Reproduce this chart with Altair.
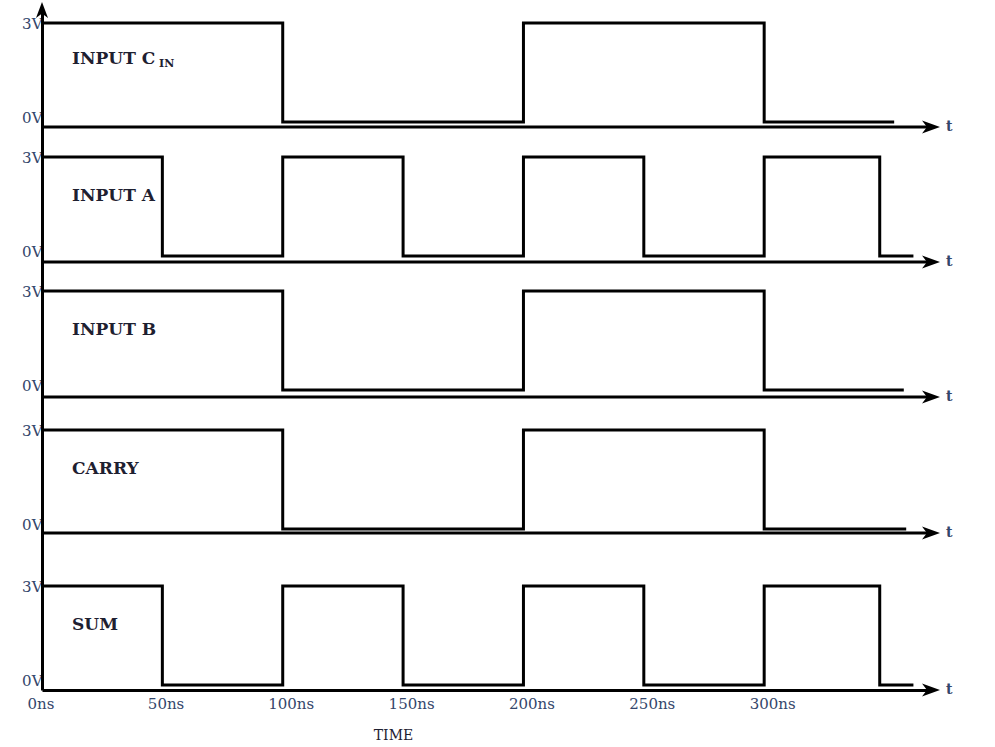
import altair as alt
import pandas as pd

# ---------------- data ----------------
signal_keys = ["CIN", "A", "B", "CARRY", "SUM"]
signal_titles = ["INPUT C", "INPUT A", "INPUT B", "CARRY", "SUM"]
cin_subscript = "IN"

cin_times = [0, 100, 200, 300, 354]
cin_levels = [3, 0, 3, 0, 0]
a_times = [0, 50, 100, 150, 200, 250, 300, 348, 362]
a_levels = [3, 0, 3, 0, 3, 0, 3, 0, 0]
b_times = [0, 100, 200, 300, 358]
b_levels = [3, 0, 3, 0, 0]
carry_times = [0, 100, 200, 300, 359]
carry_levels = [3, 0, 3, 0, 0]
sum_times = [0, 50, 100, 150, 200, 250, 300, 348, 362]
sum_levels = [3, 0, 3, 0, 3, 0, 3, 0, 0]

time_ticks = [0, 50, 100, 150, 200, 250, 300]
volt_labels = ["3V", "0V"]
time_title = "TIME"
axis_var = "t"

# ---------------- layout (track units = pixels up from the bottom axis) ----------------
T_MAX = 369.3
TRACK_TOP = 680
PX_PER_VOLT = 33
base = {"CIN": 568, "A": 434, "B": 300, "CARRY": 161, "SUM": 5}
axis_track = {"CIN": 563, "A": 428, "B": 293, "CARRY": 157, "SUM": 0}
title_lift = {"CIN": 63, "A": 60, "B": 60, "CARRY": 60, "SUM": 60}
TITLE_T = 12.5

INK = "#000000"
LABEL = "#34466b"
TITLE = "#1e2030"
SERIF = "DejaVu Serif"

series = {
    "CIN": (cin_times, cin_levels),
    "A": (a_times, a_levels),
    "B": (b_times, b_levels),
    "CARRY": (carry_times, carry_levels),
    "SUM": (sum_times, sum_levels),
}

rows = []
for k in signal_keys:
    ts, vs = series[k]
    for t, v in zip(ts, vs):
        rows.append({"sig": k, "t": t, "track": base[k] + v * PX_PER_VOLT})
wave = pd.DataFrame(rows)

axes_df = pd.DataFrame(
    [{"sig": k, "t": 0, "t2": T_MAX, "track": axis_track[k]} for k in signal_keys if k != "SUM"]
)
arrow_df = pd.DataFrame([{"t": T_MAX, "track": axis_track[k]} for k in signal_keys])
up_df = pd.DataFrame([{"t": 0, "track": TRACK_TOP}])
tlab_df = pd.DataFrame([{"t": T_MAX, "track": axis_track[k], "lab": axis_var} for k in signal_keys])
title_df = pd.DataFrame(
    [{"t": TITLE_T, "track": base[k] + title_lift[k], "lab": lab} for k, lab in zip(signal_keys, signal_titles)]
)
sub_df = pd.DataFrame([{"t": TITLE_T, "track": base["CIN"] + title_lift["CIN"], "lab": cin_subscript}])

three_v = [base[k] + 3 * PX_PER_VOLT for k in signal_keys]
zero_v = [base[k] + 5 for k in signal_keys]
y_values = sorted(three_v + zero_v)
y_expr = (
    "(" + " || ".join("datum.value == %d" % v for v in three_v) + ") ? '"
    + volt_labels[0] + "' : '" + volt_labels[1] + "'"
)

X = alt.X(
    "t:Q",
    scale=alt.Scale(domain=[0, T_MAX], nice=False, zero=False),
    axis=alt.Axis(
        values=time_ticks,
        labelExpr="datum.value + 'ns'",
        ticks=False,
        grid=False,
        domainColor=INK,
        domainWidth=3,
        labelFont=SERIF,
        labelFontSize=15,
        labelColor=LABEL,
        labelAlign="left",
        labelOffset=-15,
        labelPadding=6,
        labelFlush=False,
        labelOverlap=False,
        labelBound=False,
        title=time_title,
        titleFont=SERIF,
        titleFontSize=14,
        titleFontWeight="normal",
        titleColor=TITLE,
        titleX=351,
        titleY=45,
        titleAlign="center",
        titleBaseline="middle",
    ),
)
Y = alt.Y(
    "track:Q",
    scale=alt.Scale(domain=[0, TRACK_TOP], nice=False, zero=False),
    axis=alt.Axis(
        values=y_values,
        labelExpr=y_expr,
        ticks=False,
        grid=False,
        domainColor=INK,
        domainWidth=3,
        labelFont=SERIF,
        labelFontSize=15,
        labelColor=LABEL,
        labelAlign="right",
        labelBaseline="middle",
        labelPadding=0,
        labelOverlap=False,
        labelBound=False,
        title=None,
    ),
)

waves = alt.Chart(wave).mark_line(
    interpolate="step-after", color=INK, strokeWidth=3, strokeJoin="miter", strokeCap="butt"
).encode(x=X, y=Y, detail="sig:N")

axis_lines = alt.Chart(axes_df).mark_rule(color=INK, strokeWidth=3).encode(
    x=X, x2="t2:Q", y=Y
)

right_arrow = "M 1 0 L -1 -0.72 L -0.45 0 L -1 0.72 Z"
up_arrow = "M 0 -1 L 0.75 1 L 0 0.45 L -0.75 1 Z"

arrows = alt.Chart(arrow_df).mark_point(
    shape=right_arrow, size=324, filled=True, color=INK, opacity=1, strokeWidth=0
).encode(x=X, y=Y)
up = alt.Chart(up_df).mark_point(
    shape=up_arrow, size=256, filled=True, color=INK, opacity=1, strokeWidth=0
).encode(x=X, y=Y)

tlabels = alt.Chart(tlab_df).mark_text(
    align="left", baseline="middle", dx=15, font=SERIF, fontSize=14, fontWeight="bold", color=LABEL
).encode(x=X, y=Y, text="lab:N")

titles = alt.Chart(title_df).mark_text(
    align="left", baseline="middle", font=SERIF, fontSize=17, fontWeight="bold", color=TITLE
).encode(x=X, y=Y, text="lab:N")

subs = alt.Chart(sub_df).mark_text(
    align="left", baseline="middle", dx=87, dy=5, font=SERIF, fontSize=11, fontWeight="bold", color=TITLE
).encode(x=X, y=Y, text="lab:N")

chart = (
    alt.layer(axis_lines, waves, arrows, up, tlabels, titles, subs)
    .properties(
        width=889,
        height=680,
        autosize=alt.AutoSizeParams(type="none"),
        padding={"left": 42, "top": 10, "right": 64, "bottom": 57},
        background="white",
    )
    .configure_view(stroke=None)
)

chart.save("out.html", embed_options={"renderer": "svg", "actions": False})
